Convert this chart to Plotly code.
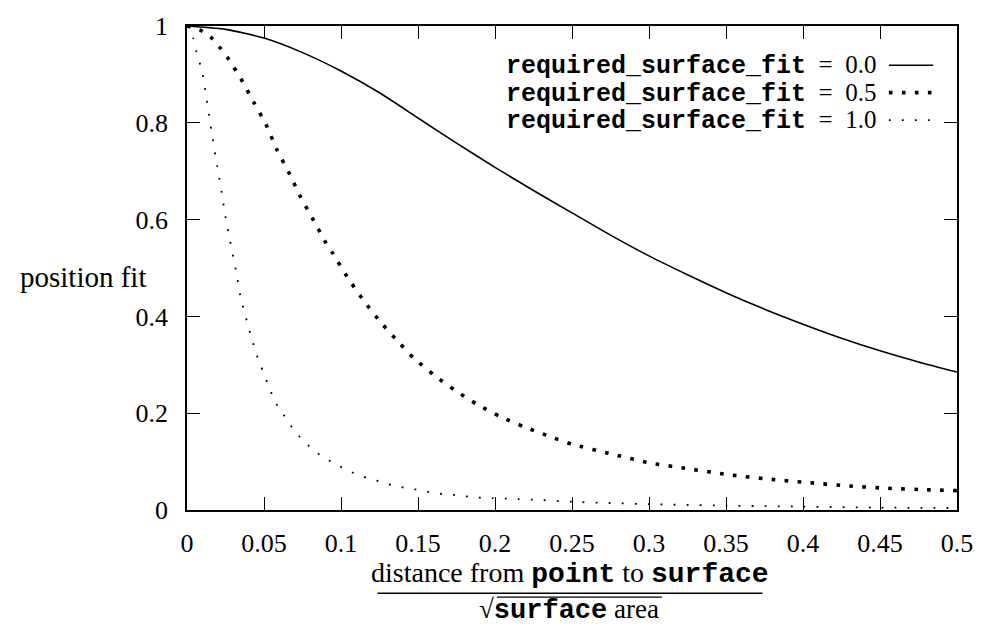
import plotly.graph_objects as go

# ---- data ----
x_fit00 = [0, 0.025, 0.05, 0.075, 0.1, 0.125, 0.15, 0.175, 0.2, 0.225, 0.25, 0.275,
           0.3, 0.325, 0.35, 0.375, 0.4, 0.425, 0.45, 0.475, 0.5]
y_fit00 = [1.0, 0.993, 0.975, 0.945, 0.907, 0.862, 0.81, 0.758, 0.708, 0.66, 0.614, 0.568,
           0.525, 0.486, 0.449, 0.415, 0.384, 0.355, 0.329, 0.306, 0.285]

x_fit05 = [0, 0.0083, 0.0154, 0.0212, 0.0265, 0.035, 0.0436, 0.0511, 0.0585, 0.066, 0.0739,
           0.0814, 0.0904, 0.0947, 0.104, 0.1137, 0.1242, 0.1353, 0.1472, 0.1603, 0.1737,
           0.188, 0.2034, 0.2188, 0.2346, 0.25, 0.2765, 0.301, 0.326, 0.3517, 0.377, 0.402,
           0.428, 0.454, 0.479, 0.5]
y_fit05 = [1.0, 0.992, 0.977, 0.956, 0.934, 0.891, 0.841, 0.798, 0.744, 0.698, 0.646,
           0.603, 0.551, 0.53, 0.482, 0.437, 0.394, 0.354, 0.314, 0.279, 0.248,
           0.219, 0.193, 0.172, 0.153, 0.136, 0.115, 0.097, 0.085, 0.073, 0.064, 0.057,
           0.05, 0.045, 0.042, 0.04]

x_fit10 = [0, 0.004, 0.0062, 0.0098, 0.0126, 0.0158, 0.0197, 0.0226, 0.0248, 0.028, 0.0319,
           0.0346, 0.0389, 0.0423, 0.0451, 0.0479, 0.0526, 0.056, 0.0596, 0.0647, 0.0694,
           0.075, 0.0814, 0.0885, 0.0955, 0.1034, 0.1109, 0.119, 0.1274, 0.1357, 0.144,
           0.1524, 0.1607, 0.169, 0.1774, 0.1859, 0.1944, 0.2113, 0.228, 0.25, 0.3, 0.35,
           0.4, 0.45, 0.5]
y_fit10 = [1.0, 0.975, 0.946, 0.906, 0.852, 0.784, 0.709, 0.654, 0.609, 0.555, 0.493,
           0.443, 0.39, 0.351, 0.322, 0.298, 0.259, 0.233, 0.21, 0.188, 0.165,
           0.145, 0.126, 0.109, 0.097, 0.083, 0.073, 0.064, 0.057, 0.049, 0.045,
           0.04, 0.035, 0.032, 0.03, 0.026, 0.025, 0.023, 0.021, 0.017, 0.012, 0.009,
           0.007, 0.005, 0.004]

x_ticks = [0, 0.05, 0.1, 0.15, 0.2, 0.25, 0.3, 0.35, 0.4, 0.45, 0.5]
x_tick_labels = ["0", "0.05", "0.1", "0.15", "0.2", "0.25", "0.3", "0.35", "0.4", "0.45", "0.5"]
y_ticks = [0, 0.2, 0.4, 0.6, 0.8, 1]
y_tick_labels = ["0", "0.2", "0.4", "0.6", "0.8", "1"]

legend_labels = ["0.0", "0.5", "1.0"]

# ---- styling ----
SERIF = "Liberation Serif"
MONO = "Liberation Mono"
FS = 26
W, H = 985, 626
L, R, T, B = 187, 967, 16, 510  # plot box in pixels


def px2paper_x(px):
    return (px - L) / (R - L)


def px2paper_y(py):
    return (B - py) / (B - T)


styles = [
    dict(width=1.6, dash="solid"),
    dict(width=3.6, dash="3.6px,9.4px"),
    dict(width=1.8, dash="1.8px,11.2px"),
]

fig = go.Figure()
for xs, ys, st in zip([x_fit00, x_fit05, x_fit10], [y_fit00, y_fit05, y_fit10], styles):
    fig.add_trace(go.Scatter(
        x=xs, y=ys, mode="lines", showlegend=False,
        line=dict(color="black", width=st["width"], dash=st["dash"], shape="spline", smoothing=0.6),
    ))

axis_common = dict(
    showgrid=False, zeroline=False, showline=True, linecolor="black", linewidth=1.6,
    mirror="ticks", ticks="inside", ticklen=13, tickwidth=1.3, tickcolor="black",
    tickfont=dict(family=SERIF, size=FS, color="black"),
)
fig.update_xaxes(range=[0, 0.5], tickvals=x_ticks, ticktext=x_tick_labels,
                 ticklabelstandoff=9, **axis_common)
fig.update_yaxes(range=[0, 1], tickvals=y_ticks, ticktext=y_tick_labels,
                 ticklabelstandoff=12, **axis_common)

annotations = []
shapes = []

# legend (text right-aligned, sample to the right)
row_y = [57, 85, 113]
for lab, yy, st in zip(legend_labels, row_y, styles):
    annotations.append(dict(
        xref="paper", yref="paper", x=px2paper_x(886), y=px2paper_y(yy),
        xanchor="right", yanchor="middle", showarrow=False, borderpad=0,
        text=f'<span style="font-family:{MONO}"><b>required_surface_fit</b></span>'
             f'\u2002=\u2002{lab}',
        font=dict(family=SERIF, size=25, color="black"),
    ))
    shapes.append(dict(
        type="line", xref="paper", yref="paper",
        x0=px2paper_x(898), x1=px2paper_x(943), y0=px2paper_y(yy - 1), y1=px2paper_y(yy - 1),
        line=dict(color="black", width=st["width"], dash=st["dash"]),
    ))

# y axis title
annotations.append(dict(
    xref="paper", yref="paper", x=px2paper_x(146), y=px2paper_y(272),
    xanchor="right", yanchor="middle", showarrow=False, borderpad=0,
    text="position fit", font=dict(family=SERIF, size=29, color="black"),
))

# x axis title as a fraction
annotations.append(dict(
    xref="paper", yref="paper", x=px2paper_x(575), y=px2paper_y(575),
    xanchor="center", yanchor="middle", showarrow=False, borderpad=0,
    text=f'distance from <span style="font-family:{MONO}"><b>point</b></span> to '
         f'<span style="font-family:{MONO}"><b>surface</b></span>',
    font=dict(family=SERIF, size=28, color="black"),
))
shapes.append(dict(
    type="line", xref="paper", yref="paper",
    x0=px2paper_x(380), x1=px2paper_x(770), y0=px2paper_y(595), y1=px2paper_y(595),
    line=dict(color="black", width=1.5),
))
annotations.append(dict(
    xref="paper", yref="paper", x=px2paper_x(574), y=px2paper_y(612),
    xanchor="center", yanchor="middle", showarrow=False, borderpad=0,
    text=f'√<span style="font-family:{MONO}"><b>surface</b></span> area',
    font=dict(family=SERIF, size=27, color="black"),
))
shapes.append(dict(
    type="line", xref="paper", yref="paper",
    x0=px2paper_x(501), x1=px2paper_x(668), y0=px2paper_y(599), y1=px2paper_y(599),
    line=dict(color="black", width=1.2),
))

fig.update_layout(
    width=W, height=H,
    margin=dict(l=L, r=W - R, t=T, b=H - B, pad=0),
    plot_bgcolor="white", paper_bgcolor="white",
    annotations=annotations, shapes=shapes,
    showlegend=False,
)

fig.write_html("out.html")
